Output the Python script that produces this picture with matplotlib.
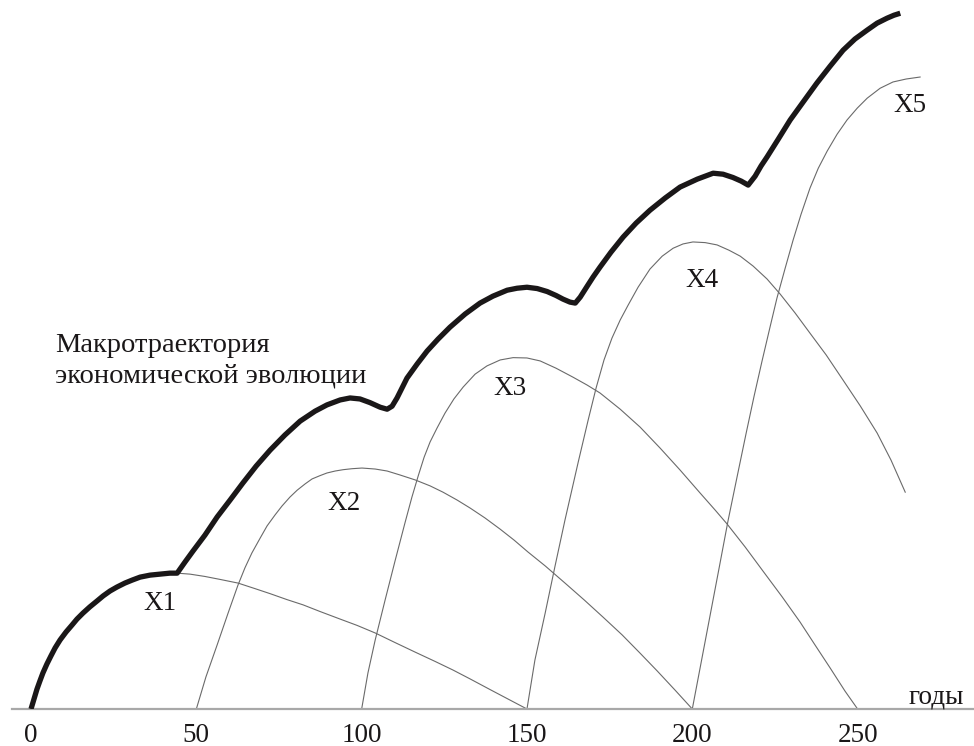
import matplotlib.pyplot as plt

plt.rcParams['font.family'] = ['Liberation Serif', 'DejaVu Serif']

# Траектории отдельных укладов X1..X5: годы и уровень (условные единицы)
x1_years = [0, 0.9, 1.8, 2.7, 3.6, 4.8, 6.0, 7.3, 8.8, 10.6, 12.4, 13.9, 15.7, 17.8, 20.0, 21.8,
            23.9, 26.0, 28.4, 30.6, 33.0, 36.0, 39.0, 42.0, 44.2, 48.1, 52.6, 57.2, 62.6, 67.8,
            72.3, 77.4, 82.3, 87.4, 93.5, 98.6, 104.1, 110.1, 116.2, 122.2, 127.6, 132.8, 138.8,
            144.3, 150]
x1_level = [0, 3.0, 6.0, 8.5, 10.9, 13.6, 16.0, 18.5, 20.9, 23.3, 25.4, 27.2, 29.0, 30.9, 32.7, 34.2,
            35.7, 36.9, 38.1, 39.0, 39.9, 40.5, 40.8, 41.1, 41.1, 40.8, 40.1, 39.2, 38.1, 36.4,
            34.9, 33.1, 31.5, 29.5, 27.2, 25.3, 23.0, 20.1, 17.2, 14.4, 11.8, 9.1, 5.9,
            3.0, 0]

x2_years = [50, 52.9, 56.3, 59.6, 62.6, 64.7, 66.8, 69.3, 71.4, 73.8, 75.9, 78.3, 80.5, 82.9, 85.0,
            87.4, 89.5, 92.0, 94.4, 97.1, 100.1, 104.1, 107.7, 111.6, 116.2, 120.7, 124.6, 128.9,
            132.8, 137.3, 141.9, 146.1, 150.3, 155.5, 161.5, 167.3, 173.0, 178.8, 184.2, 189.4,
            194.8, 200]
x2_level = [0, 9.7, 19.4, 29.0, 37.5, 42.7, 47.2, 51.7, 55.4, 58.7, 61.4, 64.1, 66.2, 68.1, 69.6,
            70.6, 71.4, 72.0, 72.4, 72.7, 72.9, 72.6, 72.0, 70.8, 69.3, 67.5, 65.6, 63.2,
            60.8, 57.8, 54.4, 51.1, 47.5, 43.3, 38.1, 33.0, 27.8, 22.4, 16.9, 11.5,
            5.7, 0]

x3_years = [100, 101.9, 104.1, 107.1, 110.1, 113.1, 115.2, 117.1, 118.9, 120.7, 122.8, 125.2, 127.9,
            130.7, 134.3, 137.9, 141.9, 145.8, 150.0, 154.0, 158.8, 163.9, 168.2, 172.1, 178.2,
            184.2, 190.3, 196.3, 202.4, 206.9, 210.5, 216.0, 221.4, 227.2, 232.6, 237.1, 241.7,
            246.2, 250]
x3_level = [0, 10.9, 20.9, 33.0, 44.8, 56.3, 64.1, 70.5, 76.2, 80.8, 85.0, 89.5, 93.8,
            97.4, 101.3, 103.8, 105.6, 106.3, 106.2, 105.3, 103.1, 100.4, 98.0, 95.6, 90.7,
            85.3, 78.9, 72.3, 65.3, 60.2, 56.0, 49.0, 41.7, 33.9, 26.3, 19.4, 12.4,
            5.4, 0]

x4_years = [150, 152.4, 155.5, 158.5, 161.5, 165.5, 168.5, 170.9, 173.3, 175.7, 178.2, 180.6, 183.6,
            187.2, 190.9, 194.2, 197.2, 200.2, 203.9, 207.5, 211.1, 214.5, 218.4, 222.6, 226.6,
            231.1, 235.6, 240.5, 245.6, 250.8, 255.9, 260.1, 264.4]
x4_level = [0, 14.8, 29.0, 43.3, 57.2, 74.7, 87.4, 97.1, 105.6, 112.2, 117.7, 122.2, 127.6,
            133.1, 137.0, 139.4, 140.7, 141.3, 141.1, 140.4, 138.8, 137.0, 134.0, 130.1, 125.5,
            119.8, 113.7, 107.1, 99.5, 91.7, 83.5, 75.3, 65.6]

x5_years = [200, 202.7, 205.4, 208.1, 210.8, 213.6, 216.3, 218.7, 221.1, 223.5, 225.6, 228.1, 230.5,
            232.9, 235.6, 238.1, 240.8, 243.8, 246.8, 249.9, 252.9, 256.8, 260.7, 264.7, 268.9]
x5_level = [0, 14.2, 28.4, 42.6, 56.9, 70.5, 83.5, 94.7, 105.3, 115.5, 124.3, 133.4, 141.9,
            149.7, 157.6, 163.6, 168.8, 173.9, 178.2, 181.8, 184.8, 187.8, 189.7, 190.6, 191.2]

# Макротраектория экономической эволюции (огибающая)
env_years = [0, 0.9, 1.8, 2.7, 3.6, 4.8, 6.0, 7.3, 8.8, 10.6, 12.4, 13.9, 15.7, 17.8, 20.0, 21.8,
             23.9, 26.0, 28.4, 30.6, 33.0, 36.0, 39.0, 42.0, 44.2,
             46.6, 49.0, 52.6, 56.3, 60.2, 64.1, 68.1, 72.3, 76.8, 81.4, 85.9, 89.5, 93.5, 96.5,
             99.5, 102.5, 105.6, 107.7, 109.2, 110.7, 112.2, 113.7, 116.8, 119.8, 123.1, 126.7,
             131.3, 135.8, 139.7, 144.0, 147.0, 150.0, 153.1, 156.1, 158.8, 160.9, 163.0, 164.6,
             166.1, 168.2, 170.0, 172.1, 175.4, 179.1, 183.0, 187.2, 191.8, 196.3, 201.5, 206.3,
             209.3, 212.3, 214.8, 216.9, 219.0, 220.8, 222.6, 226.0, 229.6, 233.5, 237.7, 241.7,
             245.6, 249.2, 252.9, 255.9, 258.9, 261.0, 262.9]
env_level = [0, 3.0, 6.0, 8.5, 10.9, 13.6, 16.0, 18.5, 20.9, 23.3, 25.4, 27.2, 29.0, 30.9, 32.7, 34.2,
             35.7, 36.9, 38.1, 39.0, 39.9, 40.5, 40.8, 41.1, 41.1,
             44.5, 47.8, 52.6, 58.1, 63.2, 68.4, 73.5, 78.3, 82.9, 87.1, 90.1, 92.0, 93.5, 94.1,
             93.8, 92.7, 91.3, 90.7, 91.6, 94.1, 97.1, 100.1, 104.4, 108.3, 111.9, 115.5,
             119.5, 122.8, 124.9, 126.7, 127.3, 127.6, 127.2, 126.3, 125.1, 124.0, 123.1, 122.8,
             124.6, 127.9, 130.7, 133.7, 138.2, 142.8, 147.0, 150.9, 154.6, 157.9, 160.3, 162.1,
             161.8, 160.8, 159.7, 158.5, 161.2, 164.3, 167.0, 172.4, 178.2, 183.6, 189.4, 194.5,
             199.3, 202.7, 205.4, 207.5, 209.0, 209.9, 210.5]

curves = [(x1_years, x1_level), (x2_years, x2_level), (x3_years, x3_level),
          (x4_years, x4_level), (x5_years, x5_level)]

# Подписи кривых
curve_names = ['X1', 'X2', 'X3', 'X4', 'X5']
name_years = [39.0, 94.7, 144.9, 203.0, 265.9]
name_level = [29.9, 60.2, 95.0, 127.6, 180.5]

ticks = [0, 50, 100, 150, 200, 250]

fig = plt.figure(figsize=(9.74, 7.46), dpi=100)
ax = fig.add_axes([12 / 974, 37 / 746, 962 / 974, 709 / 746])

for xs, ys in curves:
    ax.plot(xs, ys, color='#6a6a6a', lw=0.8, zorder=2)

ax.plot(env_years, env_level, color='#1a1718', lw=3.8, solid_joinstyle='round',
        solid_capstyle='butt', zorder=3)

for name, xv, yv in zip(curve_names, name_years, name_level):
    ax.text(xv, yv, name, ha='center', va='baseline', fontsize=19.5, color='#1a1718')

# va='baseline' у многострочного текста привязывает последнюю строку
ax.text(7.3, 98.9, 'Макротраектория\nэкономической эволюции', ha='left', va='baseline',
        fontsize=20.5, color='#1a1718', linespacing=1.27)
ax.text(265.3, 1.8, 'годы', ha='left', va='baseline', fontsize=19.5, color='#1a1718')

ax.set_xlim(-5.75, 285.2)
ax.set_ylim(0, 214.5)
ax.set_xticks(ticks)
ax.set_xticklabels([str(t) for t in ticks])
ax.tick_params(axis='x', length=0, pad=10, labelsize=19.5, labelcolor='#1a1718')
ax.set_yticks([])
for side in ['top', 'left', 'right']:
    ax.spines[side].set_visible(False)
ax.spines['bottom'].set_color('#a8a8a8')
ax.spines['bottom'].set_linewidth(1.6)
ax.patch.set_alpha(0)

fig.savefig('out.png', dpi=100)
